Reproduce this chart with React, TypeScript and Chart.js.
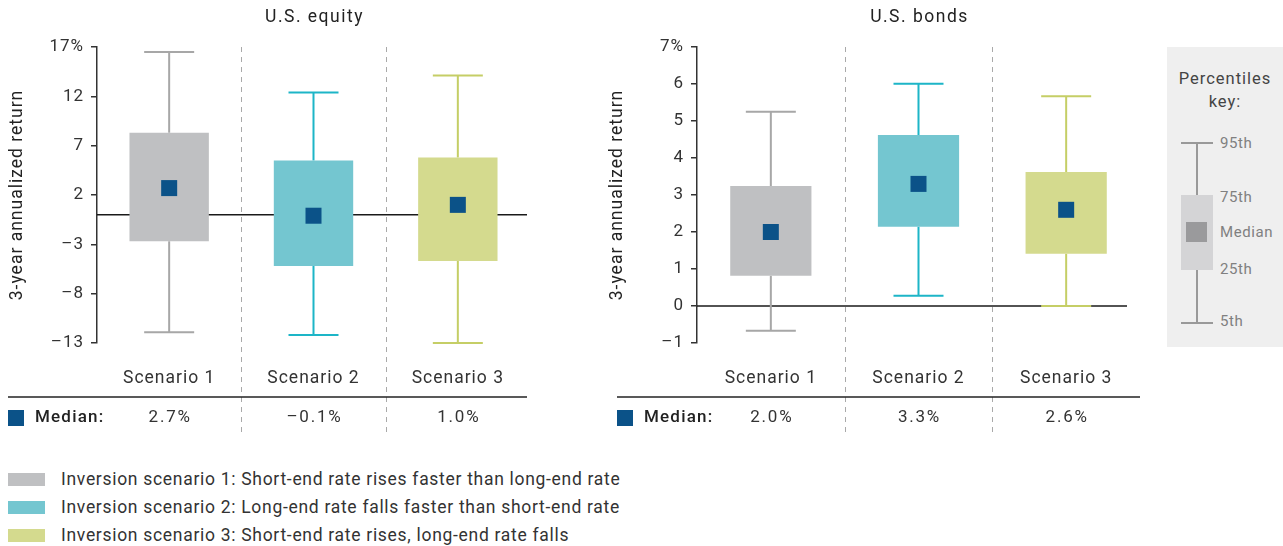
import React, { useEffect, useRef } from 'react';
import { Chart, registerables } from 'chart.js';

Chart.register(...registerables);

const FONT = 'Roboto, "Liberation Sans", Arial, sans-serif';

const categories = ['Scenario 1', 'Scenario 2', 'Scenario 3'];

const equityP5 = [-11.9, -12.2, -13.0];
const equityP25 = [-2.7, -5.2, -4.7];
const equityMedian = [2.7, -0.1, 1.0];
const equityP75 = [8.3, 5.5, 5.8];
const equityP95 = [16.5, 12.4, 14.1];
const equityTicks = [-13, -8, -3, 2, 7, 12, 17];
const equityMedianLabels = ['2.7%', '–0.1%', '1.0%'];

const bondsP5 = [-0.67, 0.28, 0.0];
const bondsP25 = [0.82, 2.14, 1.41];
const bondsMedian = [2.0, 3.3, 2.6];
const bondsP75 = [3.24, 4.62, 3.62];
const bondsP95 = [5.25, 6.01, 5.67];
const bondsTicks = [-1, 0, 1, 2, 3, 4, 5, 6, 7];
const bondsMedianLabels = ['2.0%', '3.3%', '2.6%'];

const boxColors = ['#bfc0c2', '#74c6d0', '#d4da8e'];
const whiskerColors = ['#a7a7a7', '#1db5c7', '#c5ce66'];
const medianColor = '#0b5288';

const legendLabels = [
  'Inversion scenario 1: Short-end rate rises faster than long-end rate',
  'Inversion scenario 2: Long-end rate falls faster than short-end rate',
  'Inversion scenario 3: Short-end rate rises, long-end rate falls',
];

const keyLabels = ['95th', '75th', 'Median', '25th', '5th'];

type Panel = {
  title: string;
  p5: number[];
  p25: number[];
  med: number[];
  p75: number[];
  p95: number[];
  ticks: number[];
  medLabels: string[];
  ruleLeft: number;
  ruleRight: number;
  zeroRight: number;
  padRight: number;
};

const fmtTick = (v: number, max: number) => {
  if (v === max) return v + '%';
  if (v < 0) return '–' + Math.abs(v);
  return String(v);
};

function makePlugin(p: Panel) {
  return {
    id: 'boxExtras',
    beforeDraw(chart: any) {
      chart.ctx.letterSpacing = '1px';
    },
    beforeDatasetsDraw(chart: any) {
      const ctx = chart.ctx;
      const xs = chart.scales.x;
      const ys = chart.scales.y;
      const area = chart.chartArea;
      ctx.save();
      // dividers
      ctx.strokeStyle = '#a9a9a9';
      ctx.lineWidth = 1;
      ctx.setLineDash([5, 5]);
      for (let i = 0; i < categories.length - 1; i++) {
        const x = Math.round((xs.getPixelForValue(i) + xs.getPixelForValue(i + 1)) / 2) + 0.5;
        ctx.beginPath();
        ctx.moveTo(x, area.top);
        ctx.lineTo(x, 436);
        ctx.stroke();
      }
      ctx.setLineDash([]);
      // zero line
      const y0 = ys.getPixelForValue(0);
      ctx.strokeStyle = '#1a1a1a';
      ctx.lineWidth = 1.5;
      ctx.beginPath();
      ctx.moveTo(area.left, y0);
      ctx.lineTo(p.zeroRight, y0);
      ctx.stroke();
      // whiskers
      ctx.lineWidth = 2;
      for (let i = 0; i < categories.length; i++) {
        const x = xs.getPixelForValue(i);
        const y95 = ys.getPixelForValue(p.p95[i]);
        const y75 = ys.getPixelForValue(p.p75[i]);
        const y25 = ys.getPixelForValue(p.p25[i]);
        const y5 = ys.getPixelForValue(p.p5[i]);
        ctx.strokeStyle = whiskerColors[i];
        ctx.beginPath();
        ctx.moveTo(x, y75);
        ctx.lineTo(x, y95);
        ctx.moveTo(x - 25, y95);
        ctx.lineTo(x + 25, y95);
        ctx.moveTo(x, y25);
        ctx.lineTo(x, y5);
        ctx.moveTo(x - 25, y5);
        ctx.lineTo(x + 25, y5);
        ctx.stroke();
      }
      ctx.restore();
    },
    afterDatasetsDraw(chart: any) {
      const ctx = chart.ctx;
      const xs = chart.scales.x;
      const ys = chart.scales.y;
      ctx.save();
      ctx.fillStyle = medianColor;
      for (let i = 0; i < categories.length; i++) {
        const x = xs.getPixelForValue(i);
        const y = ys.getPixelForValue(p.med[i]);
        ctx.fillRect(x - 8, y - 8, 16, 16);
      }
      ctx.restore();
    },
    afterDraw(chart: any) {
      const ctx = chart.ctx;
      const xs = chart.scales.x;
      const area = chart.chartArea;
      ctx.save();
      // title
      ctx.fillStyle = '#222';
      ctx.font = `17.5px ${FONT}`;
      ctx.letterSpacing = '1.5px';
      ctx.textAlign = 'center';
      ctx.textBaseline = 'middle';
      ctx.fillText(p.title, (area.left + area.right) / 2 + 1, 18);
      // rule
      ctx.strokeStyle = '#222';
      ctx.lineWidth = 1.5;
      ctx.beginPath();
      ctx.moveTo(p.ruleLeft, 397);
      ctx.lineTo(p.ruleRight, 397);
      ctx.stroke();
      // median row
      ctx.fillStyle = medianColor;
      ctx.fillRect(p.ruleLeft, 410, 16, 16);
      ctx.fillStyle = '#222';
      ctx.textAlign = 'left';
      ctx.font = `500 17px ${FONT}`;
      ctx.letterSpacing = '1.2px';
      ctx.fillText('Median:', p.ruleLeft + 27, 418);
      ctx.font = `17px ${FONT}`;
      ctx.letterSpacing = '1.8px';
      ctx.fillStyle = '#333';
      ctx.textAlign = 'center';
      for (let i = 0; i < categories.length; i++) {
        ctx.fillText(p.medLabels[i], xs.getPixelForValue(i) + 1, 418);
      }
      ctx.restore();
      ctx.letterSpacing = '0px';
    },
  };
}

function BoxPanel({ panel, left }: { panel: Panel; left: number }) {
  const ref = useRef<HTMLCanvasElement | null>(null);
  useEffect(() => {
    if (!ref.current) return;
    const min = panel.ticks[0];
    const max = panel.ticks[panel.ticks.length - 1];
    const chart = new Chart(ref.current, {
      type: 'bar',
      data: {
        labels: categories,
        datasets: [
          {
            data: panel.p25.map((v, i) => [v, panel.p75[i]]) as any,
            backgroundColor: boxColors,
            borderWidth: 0,
            barPercentage: 0.55,
            categoryPercentage: 1,
          },
        ],
      },
      options: {
        animation: false,
        responsive: false,
        maintainAspectRatio: false,
        events: [],
        layout: { padding: { left: 0, right: panel.padRight, top: 47, bottom: 57 } },
        plugins: {
          legend: { display: false },
          tooltip: { enabled: false },
          title: { display: false },
        },
        scales: {
          x: {
            type: 'category',
            offset: true,
            grid: { display: false, drawTicks: false },
            border: { display: false },
            ticks: { padding: 25, color: '#333', font: { family: FONT, size: 17.5 } },
            afterFit: (s: any) => {
              s.height = 50;
            },
          },
          y: {
            type: 'linear',
            min,
            max,
            afterBuildTicks: (s: any) => {
              s.ticks = panel.ticks.map((v) => ({ value: v }));
            },
            afterFit: (s: any) => {
              s.width = 97;
            },
            border: { display: true, color: '#333', width: 1.5 },
            grid: {
              display: true,
              drawOnChartArea: false,
              drawTicks: true,
              tickLength: 6,
              color: '#333',
              lineWidth: 1.5,
            },
            ticks: {
              padding: 7,
              color: '#333',
              font: { family: FONT, size: 17 },
              callback: (v: any) => fmtTick(Number(v), max),
            },
            title: {
              display: true,
              text: '3-year annualized return',
              color: '#222',
              font: { family: FONT, size: 17.5 },
              padding: { top: 7, bottom: 0 },
            },
          },
        },
      } as any,
      plugins: [makePlugin(panel)],
    });
    return () => chart.destroy();
  }, [panel]);
  return (
    <canvas
      ref={ref}
      width={560}
      height={450}
      style={{ position: 'absolute', left, top: 0, width: 560, height: 450 }}
    />
  );
}

const equityPanel: Panel = {
  title: 'U.S. equity',
  p5: equityP5,
  p25: equityP25,
  med: equityMedian,
  p75: equityP75,
  p95: equityP95,
  ticks: equityTicks,
  medLabels: equityMedianLabels,
  ruleLeft: 8,
  ruleRight: 527,
  zeroRight: 527,
  padRight: 30,
};

const bondsPanel: Panel = {
  title: 'U.S. bonds',
  p5: bondsP5,
  p25: bondsP25,
  med: bondsMedian,
  p75: bondsP75,
  p95: bondsP95,
  ticks: bondsTicks,
  medLabels: bondsMedianLabels,
  ruleLeft: 17,
  ruleRight: 540,
  zeroRight: 527,
  padRight: 20,
};

const keyLabelY = [143, 197, 232, 269, 321];

export default function App() {
  return (
    <div
      style={{
        position: 'absolute',
        left: 0,
        top: 0,
        width: 1283,
        height: 546,
        background: '#fff',
        fontFamily: FONT,
        overflow: 'hidden',
      }}
    >
      <BoxPanel panel={equityPanel} left={0} />
      <BoxPanel panel={bondsPanel} left={600} />

      {/* Percentiles key */}
      <div
        style={{
          position: 'absolute',
          left: 1167,
          top: 47,
          width: 116,
          height: 300,
          background: '#efefef',
        }}
      />
      <div
        style={{
          position: 'absolute',
          left: 1167,
          top: 67,
          width: 116,
          textAlign: 'center',
          fontSize: 16.5,
          letterSpacing: '1px',
          lineHeight: '23px',
          color: '#444',
        }}
      >
        Percentiles
        <br />
        key:
      </div>
      <div style={{ position: 'absolute', left: 1196, top: 143, width: 2, height: 180, background: '#999' }} />
      <div style={{ position: 'absolute', left: 1181, top: 142, width: 32, height: 2, background: '#999' }} />
      <div style={{ position: 'absolute', left: 1181, top: 322, width: 32, height: 2, background: '#999' }} />
      <div style={{ position: 'absolute', left: 1181, top: 195, width: 32, height: 75, background: '#d4d4d6' }} />
      <div style={{ position: 'absolute', left: 1186, top: 222, width: 21, height: 20, background: '#9a9a9c' }} />
      {keyLabels.map((t, i) => (
        <div
          key={t}
          style={{
            position: 'absolute',
            left: 1220,
            top: keyLabelY[i] - 9,
            fontSize: 15,
            letterSpacing: '0.6px',
            lineHeight: '18px',
            color: '#808080',
          }}
        >
          {t}
        </div>
      ))}

      {/* Legend */}
      {legendLabels.map((t, i) => (
        <div key={t} style={{ position: 'absolute', left: 8, top: 467 + i * 28, height: 24, display: 'flex', alignItems: 'center' }}>
          <div style={{ width: 37, height: 13, background: boxColors[i] }} />
          <div style={{ marginLeft: 16, fontSize: 17.5, letterSpacing: '0.7px', color: '#333', whiteSpace: 'nowrap' }}>{t}</div>
        </div>
      ))}
    </div>
  );
}
